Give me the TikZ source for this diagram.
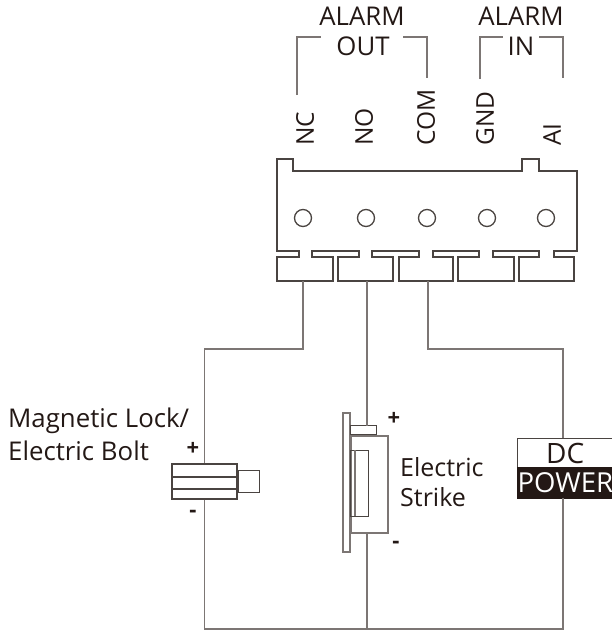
\documentclass[tikz,border=0pt]{standalone}
\usepackage{fontspec}
\setmainfont{Open Sans}
\usepackage{xcolor}
\definecolor{wiregray}{HTML}{7C7674}
\definecolor{partdark}{HTML}{4A4441}
\definecolor{inkdark}{HTML}{231815}
\tikzset{
    wire/.style={draw=wiregray,line width=1.1pt},
    part/.style={draw=partdark,line width=1.3pt},
    partbox/.style={part,rectangle,inner sep=0pt},
    hole/.style={part,circle,inner sep=0pt,minimum size=17pt},
    brace/.style={draw=wiregray,line width=1.5pt},
    label/.style={text=inkdark,inner sep=0pt,font=\fontsize{25.8}{30}\selectfont},
    pinlabel/.style={label,rotate=90,anchor=west,font=\fontsize{24.5}{30}\selectfont},
    sign/.style={text=inkdark,inner sep=0pt,font=\fontsize{22}{24}\selectfont\bfseries}
}
\begin{document}
\begin{tikzpicture}[x=1pt,y=-1pt]
\useasboundingbox (0,0) rectangle (612,630);

% alarm groups
\node[label] (alarmout) at (362,16) {ALARM};
\node[label] (out) at (363,46) {OUT};
\node[label] (alarmin) at (521,16) {ALARM};
\node[label] (in) at (521,46) {IN};
\coordinate (outa) at (297,95);
\coordinate (outb) at (321,37);
\coordinate (outc) at (403,37);
\coordinate (outd) at (427,78);
\coordinate (ina) at (480,79);
\coordinate (inb) at (503,37);
\coordinate (inc) at (539,37);
\coordinate (ind) at (563,78);
\draw[brace] (outa) |- (outb);
\draw[brace] (outc) -| (outd);
\draw[brace] (ina) |- (inb);
\draw[brace] (inc) -| (ind);

% terminal names
\node[pinlabel] (nc) at (305,146) {NC};
\node[pinlabel] (no) at (364,146) {NO};
\node[pinlabel] (com) at (426,146) {COM};
\node[pinlabel] (gnd) at (485,146) {GND};
\node[pinlabel] (ai) at (552,146) {AI};

% connector block
\draw[part] (277,251) -- (277,159) -- (293,159) -- (293,171) -- (522,171)
    -- (522,159) -- (539,159) -- (539,171) -- (577,171) -- (577,251)
    -- (554,251) -- (554,257) -- (574,257) -- (574,281) -- (519,281)
    -- (519,257) -- (539,257) -- (539,251) -- (493,251) -- (493,257)
    -- (514,257) -- (514,281) -- (458,281) -- (458,257) -- (479,257)
    -- (479,251) -- (433,251) -- (433,257) -- (453,257) -- (453,281)
    -- (399,281) -- (399,257) -- (419,257) -- (419,251) -- (372,251)
    -- (372,257) -- (393,257) -- (393,281) -- (338,281) -- (338,257)
    -- (359,257) -- (359,251) -- (312,251) -- (312,257) -- (333,257)
    -- (333,281) -- (277,281) -- (277,257) -- (299,257) -- (299,251)
    -- cycle;
\foreach \name/\xpos in {holea/303,holeb/366,holec/427,holed/487,holee/546}
    \node[hole] (\name) at (\xpos,218) {};
\coordinate (ncpin) at (303,281);
\coordinate (nopin) at (367,281);
\coordinate (compin) at (428,281);

% magnetic lock
\node[partbox,minimum width=65pt,minimum height=35pt] (lock) at (204.5,481.5) {};
\node[partbox,minimum width=21pt,minimum height=22pt,anchor=west] (lockbolt) at (lock.east) {};
\coordinate (lockmida) at (172,477);
\coordinate (lockmidb) at (237,477);
\coordinate (lockmidc) at (172,489);
\coordinate (lockmidd) at (237,489);
\draw[part] (lockmida) -- (lockmidb);
\draw[part] (lockmidc) -- (lockmidd);
\node[label,anchor=west] (locktexta) at (8,421) {Magnetic Lock/};
\node[label,anchor=west] (locktextb) at (8,451) {Electric Bolt};
\node[sign] (lockplus) at (193,449) {+};
\node[sign] (lockminus) at (193,514) {-};

% electric strike
\node[partbox,draw=wiregray,line width=1.6pt,minimum width=7pt,minimum height=139pt] (plate) at (346.5,482.5) {};
\node[partbox,draw=wiregray,line width=1.6pt,minimum width=37pt,minimum height=97pt,anchor=north west] (strike) at (350,435) {};
\node[partbox,minimum width=26pt,minimum height=9pt,anchor=south west] (striketop) at (350,435) {};
\node[partbox,minimum width=18pt,minimum height=66pt,anchor=north west] (strikecore) at (350,450) {};
\coordinate (corea) at (355,450);
\coordinate (coreb) at (355,516);
\draw[wire] (corea) -- (coreb);
\coordinate (strikein) at (367,426);
\coordinate (strikeout) at (367,532);
\node[label,anchor=west,font=\fontsize{25}{30}\selectfont] (striketexta) at (400,467) {Electric};
\node[label,anchor=west,font=\fontsize{25}{30}\selectfont] (striketextb) at (400,497) {Strike};
\node[sign] (strikeplus) at (394,419) {+};
\node[sign] (strikeminus) at (396,545) {-};

% power supply
\node[partbox,fill=white,minimum width=95pt,minimum height=29pt,anchor=north west,
    text=inkdark,font=\fontsize{28}{30}\selectfont] (dc) at (517,438) {DC};
\node[partbox,fill=inkdark,draw=inkdark,minimum width=95pt,minimum height=31pt,anchor=north west,
    text=white,font=\fontsize{27.5}{30}\selectfont] (power) at (517,467) {POWER};
\coordinate (dcin) at (563,438);
\coordinate (dcout) at (563,498);

% wiring
\coordinate (bottomline) at (367,629);
\draw[wire] (ncpin) -- ++(0,68) -| (lock.north);
\draw[wire] (nopin) -- (strikein);
\draw[wire] (compin) -- ++(0,68) -| (dcin);
\draw[wire] (lock.south) |- (bottomline);
\draw[wire] (strikeout) -- (bottomline);
\draw[wire] (dcout) |- (bottomline);
\end{tikzpicture}
\end{document}
